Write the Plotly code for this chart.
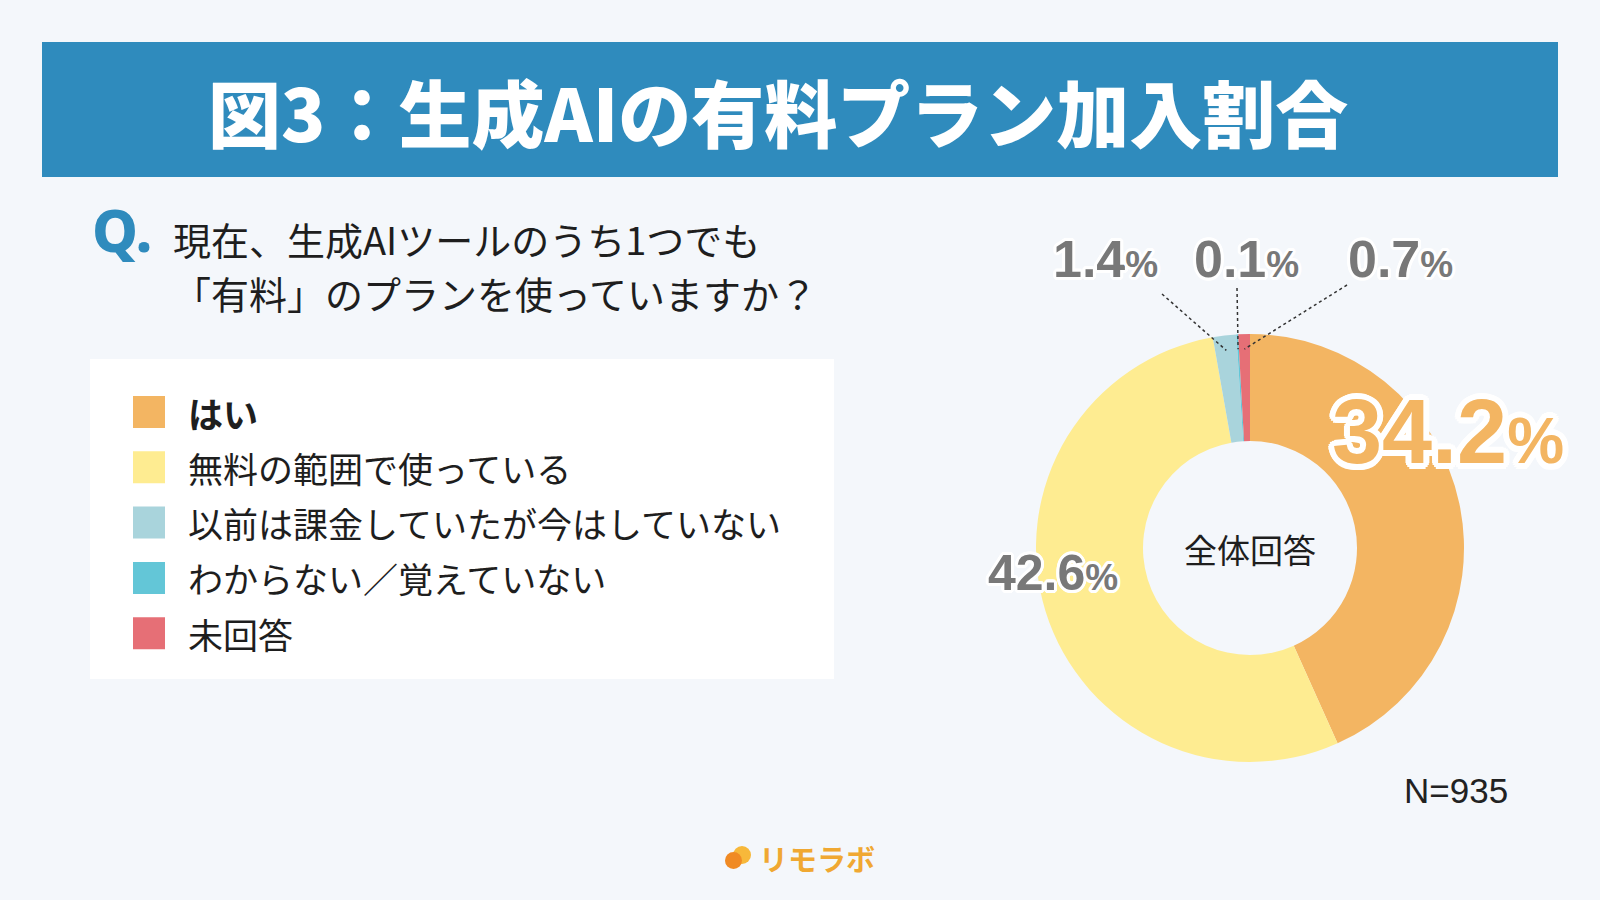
import math
import plotly.graph_objects as go

# ---------------- data ----------------
categories = ["はい", "無料の範囲で使っている", "以前は課金していたが今はしていない",
              "わからない／覚えていない", "未回答"]
values = [34.2, 42.6, 1.4, 0.1, 0.7]
colors = ["#F3B562", "#FEEC91", "#A9D4DC", "#63C6D7", "#E66F76"]
value_labels = ["34.2", "42.6", "1.4", "0.1", "0.7"]

title_text = "図3：生成AIの有料プラン加入割合"
question_lines = ["現在、生成AIツールのうち1つでも", "「有料」のプランを使っていますか？"]
center_text = "全体回答"
n_text = "N=935"
logo_text = "リモラボ"

W, H = 1600, 900
JP = "Noto Sans CJK JP"
NUM = "Liberation Sans, Noto Sans CJK JP"
BG = "#F4F7FB"
BLUE = "#2F8BBD"
GRAY = "#787878"


def px(x):
    return x / W


def py(y):
    return 1 - y / H


def outline(w, c="white"):
    parts = []
    for k in range(16):
        a = 2 * math.pi * k / 16
        parts.append(f"{w*math.cos(a):.1f}px {w*math.sin(a):.1f}px 0 {c}")
    return ", ".join(parts)


# pie geometry (pixels)
CX, CY, R = 1250, 548, 214

fig = go.Figure()
fig.add_trace(go.Pie(
    labels=categories, values=values, sort=False, direction="clockwise",
    rotation=0, hole=0.5, textinfo="none", hoverinfo="label+value",
    marker=dict(colors=colors, line=dict(width=0)),
    domain=dict(x=[px(CX - R), px(CX + R)], y=[py(CY + R), py(CY - R)]),
    showlegend=False,
))

shapes = []
ann = []

# banner
shapes.append(dict(type="rect", xref="paper", yref="paper", x0=px(42), x1=px(1558),
                   y0=py(177), y1=py(42), fillcolor=BLUE, line=dict(width=0), layer="below"))
ann.append(dict(text=title_text, x=px(778), y=py(110), xanchor="center", yanchor="middle",
                font=dict(family=JP, size=73, color="white", weight=900)))

# question
ann.append(dict(text="Q.", x=px(90), y=py(230), xanchor="left", yanchor="middle",
                font=dict(family="Noto Sans, Liberation Sans", size=58, color=BLUE, weight=800)))
for i, line in enumerate(question_lines):
    ann.append(dict(text=line, x=px(171), y=py(238 + 54 * i), xanchor="left", yanchor="middle",
                    font=dict(family=JP, size=38, color="#1E1E1E")))

# legend box
shapes.append(dict(type="rect", xref="paper", yref="paper", x0=px(90), x1=px(834),
                   y0=py(679), y1=py(359), fillcolor="white", line=dict(width=0), layer="below"))
for i, (cat, col) in enumerate(zip(categories, colors)):
    yc = 412 + 55.3 * i
    shapes.append(dict(type="rect", xref="paper", yref="paper", x0=px(133), x1=px(165),
                       y0=py(yc + 16), y1=py(yc - 16), fillcolor=col, line=dict(width=0)))
    ann.append(dict(text=cat, x=px(186), y=py(yc), xanchor="left", yanchor="middle",
                    font=dict(family=JP, size=35, color="#1E1E1E",
                              weight=700 if i == 0 else 400)))

# center text, N
ann.append(dict(text=center_text, x=px(CX), y=py(549), xanchor="center", yanchor="middle",
                font=dict(family=JP, size=33, color="#1E1E1E")))
ann.append(dict(text=n_text, x=px(1456), y=py(790), xanchor="center", yanchor="middle",
                font=dict(family="Liberation Sans", size=35, color="#222222")))

# big value labels
ann.append(dict(text=f"{value_labels[0]}<span style='font-size:64px'>%</span>",
                x=px(1448), y=py(432), xanchor="center", yanchor="middle",
                font=dict(family=NUM, size=90, color=colors[0], weight=700, shadow=outline(6))))
ann.append(dict(text=f"{value_labels[1]}<span style='font-size:37px'>%</span>",
                x=px(1053), y=py(573), xanchor="center", yanchor="middle",
                font=dict(family=NUM, size=50, color=GRAY, weight=700, shadow=outline(3))))

# small value labels with dotted leaders
small_pos = [(1105, 259), (1246, 259), (1400, 259)]
leader_start = [(1162, 294), (1237, 288), (1347, 285)]
total = sum(values)
cum = 0.0
mids = []
for v in values:
    mids.append((cum + v / 2) / total * 2 * math.pi)
    cum += v
for k, idx in enumerate([2, 3, 4]):
    lx, ly = small_pos[k]
    ann.append(dict(text=f"{value_labels[idx]}<span style='font-size:37px'>%</span>",
                    x=px(lx), y=py(ly), xanchor="center", yanchor="middle",
                    font=dict(family=NUM, size=52, color=GRAY, weight=700, shadow=outline(3))))
    a = mids[idx]
    ex = CX + 0.93 * R * math.sin(a)
    ey = CY - 0.93 * R * math.cos(a)
    sx, sy = leader_start[k]
    shapes.append(dict(type="line", xref="paper", yref="paper", x0=px(sx), y0=py(sy),
                       x1=px(ex), y1=py(ey), line=dict(color="#333333", width=1.5, dash="dot")))

# logo
shapes.append(dict(type="circle", xref="paper", yref="paper", x0=px(733), x1=px(751),
                   y0=py(864), y1=py(846), fillcolor="#F7B83A", line=dict(width=0)))
shapes.append(dict(type="circle", xref="paper", yref="paper", x0=px(725), x1=px(742),
                   y0=py(869), y1=py(852), fillcolor="#F08A24", line=dict(width=0)))
ann.append(dict(text=logo_text, x=px(757), y=py(858), xanchor="left", yanchor="middle",
                font=dict(family=JP, size=29, color="#F0A832", weight=700)))

for a in ann:
    a.update(xref="paper", yref="paper", showarrow=False)

fig.update_layout(
    width=W, height=H, margin=dict(l=0, r=0, t=0, b=0),
    paper_bgcolor=BG, plot_bgcolor=BG,
    shapes=shapes, annotations=ann,
)

fig.write_html("out.html", config={"displayModeBar": False},
               post_script="document.body.style.margin='0';document.body.style.overflow='hidden';")
